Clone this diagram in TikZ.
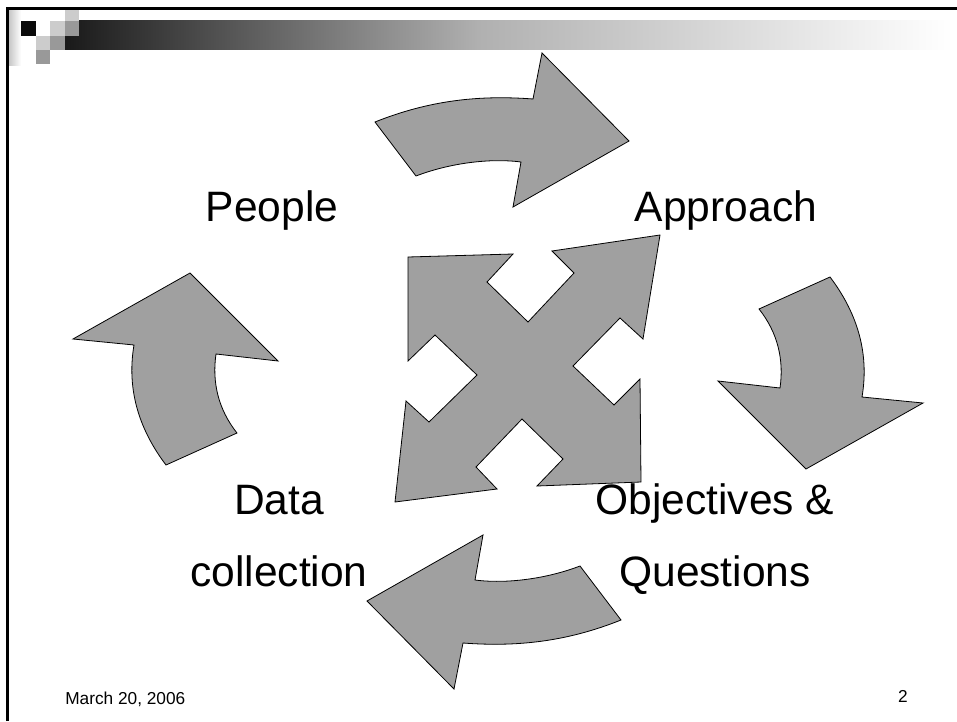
\documentclass[tikz,border=0pt]{standalone}
\usepackage{fontspec}
\setmainfont{Liberation Sans}
\definecolor{arrowgray}{RGB}{160,160,160}
\definecolor{lightsq}{RGB}{204,204,204}
\definecolor{midsq}{RGB}{153,153,153}
\definecolor{darksq}{RGB}{10,10,10}

\begin{document}
\begin{tikzpicture}[x=0.7524pt,y=-0.7524pt,
  blockarrow/.style={draw=black,fill=arrowgray,line width=0.6pt,line join=miter},
  cycletext/.style={font=\fontsize{32}{54}\selectfont,align=center,anchor=base,inner sep=0pt},
  footer/.style={font=\fontsize{13}{15}\selectfont,anchor=base,inner sep=0pt}]
\useasboundingbox (0,0) rectangle (957,721);
\fill[white] (0,0) rectangle (957,721);
% title bar and squares
\shade[left color=black!90,right color=black!31] (65,21) rectangle (478,50);
\shade[left color=black!31,right color=white] (477,21) rectangle (952,50);
\shade[left color=black!22,right color=white] (9,10) rectangle (21,66);
\fill[darksq] (21,21) rectangle (36,36);
\fill[lightsq] (50,21) rectangle (65,36);
\fill[lightsq] (65,9.5) rectangle (79,21);
\fill[midsq] (65,21) rectangle (79,36);
\fill[lightsq] (36,36) rectangle (50,50);
\fill[midsq] (50,36) rectangle (65,50);
\fill[midsq] (36,50) rectangle (50,64);
\draw[line width=1.9pt] (7.5,721) -- (7.5,8.5) -- (957,8.5);

% curved arrows
\draw[blockarrow] (375,122) .. controls (430,100) and (480,95) .. (533,99) -- (542,53)
  -- (629,141) -- (513,207) -- (521,162) .. controls (490,158) and (450,163) .. (416,176) -- cycle;
\draw[blockarrow] (759,309) -- (830,277) .. controls (855,310) and (870,350) .. (862,397)
  -- (923,403) -- (806,469) -- (718,381) -- (780,388) .. controls (784,360) and (778,333) .. (759,309) -- cycle;
\draw[blockarrow] (621,620) .. controls (566,642) and (516,647) .. (463,643) -- (454,689)
  -- (367,601) -- (483,535) -- (475,580) .. controls (506,584) and (546,579) .. (580,566) -- cycle;
\draw[blockarrow] (237,433) -- (166,465) .. controls (141,432) and (126,392) .. (134,345)
  -- (73,339) -- (190,273) -- (278,361) -- (216,354) .. controls (212,382) and (218,409) .. (237,433) -- cycle;

% four-way arrow
\draw[blockarrow] (408,257) -- (513,254) -- (487,282) -- (528,322) -- (574,273) -- (552,251)
  -- (660,235) -- (643,339) -- (620,318) -- (573,366) -- (614,405) -- (640,379)
  -- (641,482) -- (537,486) -- (563,459) -- (522,419) -- (476,467) -- (497,489)
  -- (395,502) -- (406,401) -- (429,422) -- (477,375) -- (435,335) -- (408,361) -- cycle;

\node[cycletext] (people) at (272,221) {People};
\node[cycletext] (approach) at (726,221) {Approach};
\node[cycletext] (data) at (279,586) {Data\\collection};
\node[cycletext] (objectives) at (715,586) {Objectives \&\\Questions};
\node[footer,anchor=base west] (date) at (65,704) {March 20, 2006};
\node[footer] (page) at (903,702) {2};
\end{tikzpicture}
\end{document}
